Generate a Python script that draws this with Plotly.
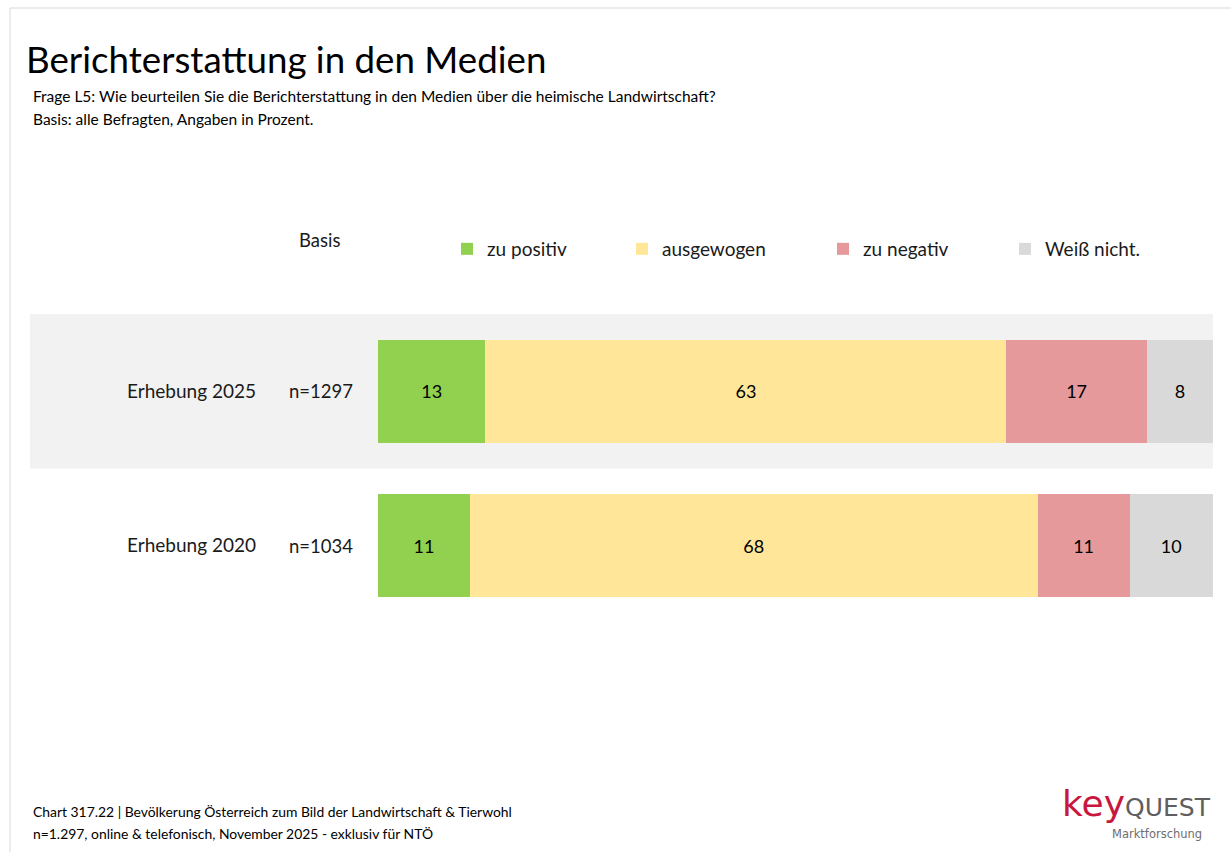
import plotly.graph_objects as go

W, H = 1231, 852

# ---------------- data ----------------
categories = ["Erhebung 2025", "Erhebung 2020"]
bases = ["n=1297", "n=1034"]
series_names = ["zu positiv", "ausgewogen", "zu negativ", "Weiß nicht."]
zu_positiv = [13, 11]
ausgewogen = [63, 68]
zu_negativ = [17, 11]
weiss_nicht = [8, 10]
series_values = [zu_positiv, ausgewogen, zu_negativ, weiss_nicht]

# ---------------- style ----------------
colors = ["#92D050", "#FFE699", "#E6999B", "#D9D9D9"]
FONT = "Lato"
TXT = "#1a1a1a"
legend_px = [447, 622, 823, 1005]   # left edge of each legend block (px)


def px(x):
    return x / W


def py(y):
    return 1 - y / H


fig = go.Figure()
for i, (name, vals) in enumerate(zip(series_names, series_values)):
    fig.add_trace(go.Bar(
        y=categories, x=vals, orientation="h", name=name,
        marker=dict(color=colors[i], line=dict(width=0)),
        text=vals, texttemplate="%{text}", textposition="inside",
        insidetextanchor="middle", textangle=0,
        textfont=dict(family=FONT, size=18, color="#000000"),
        legend="legend" if i == 0 else f"legend{i + 1}",
        showlegend=True,
        hovertemplate="%{y}: %{text}<extra>" + name + "</extra>",
    ))

legends = {}
for i in range(len(series_names)):
    key = "legend" if i == 0 else f"legend{i + 1}"
    legends[key] = dict(
        x=px(legend_px[i]), y=py(249), xanchor="left", yanchor="middle",
        orientation="h", bgcolor="rgba(0,0,0,0)", borderwidth=0,
        font=dict(family=FONT, size=19, color=TXT), itemwidth=30,
        visible=True,
    )


def note(text, x, y, size, color="#000000", xanchor="left", yanchor="middle", family=FONT):
    return dict(text=text, x=px(x), y=py(y), xref="paper", yref="paper",
                xanchor=xanchor, yanchor=yanchor, showarrow=False,
                font=dict(family=family, size=size, color=color))


annotations = [
    note("Berichterstattung in den Medien", 24, 59, 36.7),
    note("Frage L5: Wie beurteilen Sie die Berichterstattung in den Medien über die heimische Landwirtschaft?",
         31, 96, 15.5),
    note("Basis: alle Befragten, Angaben in Prozent.", 31, 119, 15.5),
    note("Basis", 297, 240, 18.5, TXT),
    note("Chart 317.22 | Bevölkerung Österreich zum Bild der Landwirtschaft &amp; Tierwohl",
         31, 811, 13.9),
    note("n=1.297, online &amp; telefonisch, November 2025 - exklusiv für NTÖ", 31, 833, 13.9),
    note("<span style='color:#C8173E;font-size:36px'>key</span>"
         "<span style='color:#5F5F5F;font-size:25px'>QUEST</span>",
         1213, 826, 25, "#5F5F5F", xanchor="right", yanchor="bottom", family="DejaVu Sans"),
    note("Marktforschung", 1204, 834, 11.5, "#6E6E6E", xanchor="right", family="DejaVu Sans"),
]
for cat, b in zip(categories, bases):
    annotations.append(dict(text=b, x=px(287), y=cat, xref="paper", yref="y",
                            xanchor="left", yanchor="middle", showarrow=False,
                            font=dict(family=FONT, size=18.5, color=TXT)))

shapes = [
    # grey band behind the first row
    dict(type="rect", xref="paper", yref="y", x0=px(30), x1=px(1213),
         y0=-0.5, y1=0.5, fillcolor="#F2F2F2", line=dict(width=0), layer="below"),
    # slide frame lines
    dict(type="line", xref="paper", yref="paper", x0=px(10), x1=1,
         y0=py(8), y1=py(8), line=dict(color="#D9D9D9", width=1)),
    dict(type="line", xref="paper", yref="paper", x0=px(10), x1=px(10),
         y0=0, y1=py(8), line=dict(color="#D9D9D9", width=1)),
]

fig.update_layout(
    width=W, height=H, autosize=False, showlegend=True,
    margin=dict(l=0, r=0, t=0, b=0, pad=0),
    paper_bgcolor="white", plot_bgcolor="rgba(0,0,0,0)",
    barmode="stack", barnorm="percent", bargap=0.333,
    font=dict(family=FONT, color=TXT),
    xaxis=dict(domain=[px(378), px(1213)], range=[0, 100], visible=False,
               fixedrange=True),
    yaxis=dict(domain=[py(623), py(314)], range=[1.5, -0.5], type="category",
               showgrid=False, zeroline=False, showline=False, ticks="",
               ticklabelstandoff=121, tickfont=dict(family=FONT, size=19, color=TXT),
               fixedrange=True),
    shapes=shapes, annotations=annotations,
    **legends,
)

fig.write_html("out.html", config={"displayModeBar": False},
               post_script="document.body.style.margin='0';document.body.style.overflow='hidden';")
